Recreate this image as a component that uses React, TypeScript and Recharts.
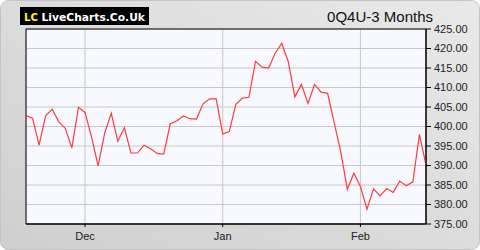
import React from 'react';
import { LineChart, Line, XAxis, YAxis, CartesianGrid, ReferenceArea } from 'recharts';

const prices: number[] = [
  402.8, 402.1, 395.2, 402.8, 404.4, 401.2, 399.5, 394.5, 404.9, 403.6,
  397.3, 389.9, 398.3, 403.4, 396.2, 399.7, 393.2, 393.2, 395.2, 394.3,
  393.1, 392.9, 400.7, 401.4, 402.7, 402.0, 401.9, 405.8, 407.1, 407.1,
  398.1, 398.7, 405.7, 407.3, 407.5, 416.7, 415.2, 415.0, 418.8, 421.3,
  416.6, 407.6, 410.8, 405.9, 410.8, 408.8, 408.5, 401.0, 393.5, 383.9,
  388.0, 384.6, 378.8, 384.0, 382.2, 384.1, 383.1, 386.0, 384.8, 385.8,
  398.0, 390.1,
];

const monthTickIndex: number[] = [9, 30, 51];
const monthTickLabels: string[] = ['Dec', 'Jan', 'Feb'];
const yTicks: number[] = [375, 380, 385, 390, 395, 400, 405, 410, 415, 420, 425];

const data = prices.map((p, i) => ({ i, price: p }));

const font = '"Liberation Sans", Arial, sans-serif';

export default function App() {
  return (
    <div style={{ position: 'absolute', left: 0, top: 0, width: 480, height: 250 }}>
      <svg width={480} height={250} style={{ position: 'absolute', left: 0, top: 0 }}>
        <defs>
          <linearGradient id="bg" x1="1" y1="0" x2="0" y2="1">
            <stop offset="0" stopColor="#e9e9e9" />
            <stop offset="1" stopColor="#cfcfcf" />
          </linearGradient>
        </defs>
        <rect x={0.5} y={0.5} width={479} height={249} rx={8} ry={8} fill="url(#bg)" stroke="#c4c4c4" />
        <rect x={20} y={7} width={129} height={18} fill="#000" />
        <text x={24} y={20.5} fill="#ffff00" fontFamily='"DejaVu Sans", Verdana, sans-serif' fontWeight="bold" fontSize={11} textLength={14} lengthAdjust="spacingAndGlyphs">LC</text>
        <text x={41.5} y={20.5} fill="#ffffff" fontFamily='"DejaVu Sans", Verdana, sans-serif' fontWeight="bold" fontSize={11} textLength={103.5} lengthAdjust="spacingAndGlyphs">LiveCharts.Co.Uk</text>
        <text x={433} y={21.5} fill="#111" fontFamily={font} fontSize={15} textAnchor="end">0Q4U-3 Months</text>
      </svg>
      <div style={{ position: 'absolute', left: 0, top: 0 }}>
        <LineChart width={480} height={250} data={data} margin={{ top: 29, left: 26, right: 4, bottom: 6 }}>
          <CartesianGrid stroke="#c8c8c8" fill="#f8f9ff" strokeWidth={1} />
          <XAxis
            dataKey="i"
            type="number"
            domain={[0, prices.length - 1]}
            ticks={monthTickIndex}
            tickFormatter={(v: number) => monthTickLabels[monthTickIndex.indexOf(v)] ?? ''}
            height={20}
            tickSize={3}
            tickMargin={5}
            axisLine={{ stroke: '#000' }}
            tickLine={{ stroke: '#000' }}
            tick={{ fill: '#222', fontSize: 11, fontFamily: font }}
            interval={0}
          />
          <YAxis
            orientation="right"
            domain={[375, 425]}
            ticks={yTicks}
            tickFormatter={(v: number) => v.toFixed(2)}
            width={50}
            tickSize={5}
            tickMargin={3}
            axisLine={{ stroke: '#000' }}
            tickLine={{ stroke: '#000' }}
            tick={{ fill: '#222', fontSize: 11, fontFamily: font }}
            interval={0}
          />
          <ReferenceArea x1={0} x2={prices.length - 1} y1={375} y2={425} fill="none" fillOpacity={0} stroke="#000" strokeOpacity={1} />
          <Line type="linear" dataKey="price" stroke="#ff3b3b" strokeWidth={1.2} dot={false} isAnimationActive={false} />
        </LineChart>
      </div>
    </div>
  );
}
